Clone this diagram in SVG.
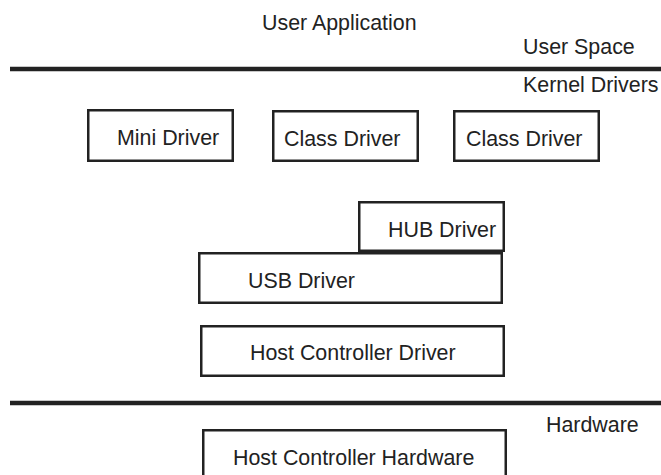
<svg xmlns="http://www.w3.org/2000/svg" width="661" height="475" viewBox="0 0 661 475">
<style>
text{font-family:"Liberation Sans",Arial,Helvetica,sans-serif;font-size:21.4px;fill:#222}
.box{fill:#fff;stroke:#222;stroke-width:2.5}
.bar{stroke:#222;stroke-width:4.5}
</style>
<rect width="661" height="475" fill="#fff"/>
<g id="layers">
<line class="bar" x1="10" y1="69" x2="661" y2="69"/>
<line class="bar" x1="10" y1="403" x2="661" y2="403"/>
<text x="262" y="30">User Application</text>
<text x="523" y="54">User Space</text>
<text x="523" y="92">Kernel Drivers</text>
<text x="546" y="432">Hardware</text>
</g>
<g id="mini-driver"><rect class="box" x="88.25" y="110.25" width="144.5" height="50.5"/><text x="117" y="145">Mini Driver</text></g>
<g id="class-driver-1"><rect class="box" x="273.25" y="111.25" width="144.5" height="49.5"/><text x="284" y="146">Class Driver</text></g>
<g id="class-driver-2"><rect class="box" x="454.25" y="111.25" width="144.5" height="49.5"/><text x="466" y="146">Class Driver</text></g>
<g id="hub-driver"><rect class="box" x="359.25" y="202.25" width="144.5" height="48.5"/><text x="388" y="237">HUB Driver</text></g>
<g id="usb-driver"><rect class="box" x="199.25" y="253.25" width="302.5" height="49.5"/><text x="248" y="288">USB Driver</text></g>
<g id="host-controller-driver"><rect class="box" x="201.25" y="326.25" width="302.5" height="49.5"/><text x="250" y="360">Host Controller Driver</text></g>
<g id="host-controller-hardware"><rect class="box" x="203.25" y="430.25" width="302.5" height="60"/><text x="233" y="465">Host Controller Hardware</text></g>
<g id="connectors"/>
</svg>
